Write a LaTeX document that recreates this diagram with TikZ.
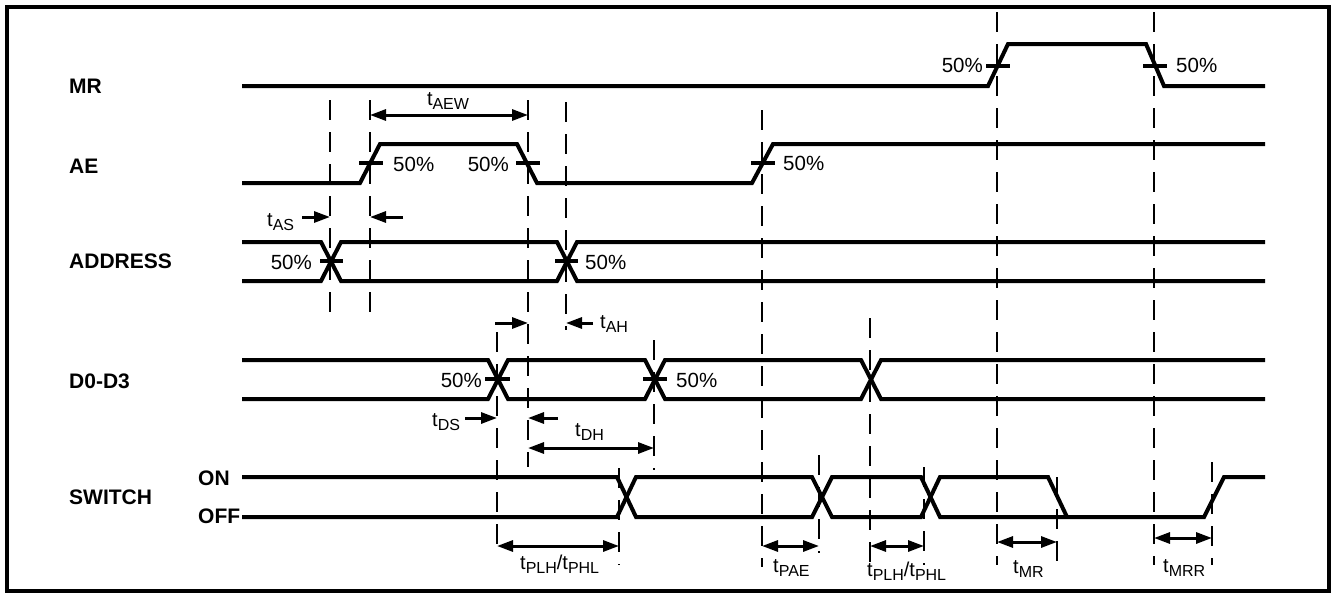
\documentclass[tikz,border=0pt]{standalone}
\usepackage{fontspec}
\setmainfont{Liberation Sans}
\usetikzlibrary{arrows.meta}
\newcommand{\tsub}[1]{t\raisebox{-4pt}{\fontsize{16}{16}\selectfont #1}}
\begin{document}
\begin{tikzpicture}[x=1pt,y=-1pt,
  sig/.style={line width=4pt, line join=miter},
  tickmark/.style={line width=4pt},
  guide/.style={line width=1.4pt, dash pattern=on 20pt off 12pt},
  dim/.style={line width=3pt, -{Triangle[length=16pt,width=11pt]}},
  dimboth/.style={line width=3pt, {Triangle[length=16pt,width=11pt]}-{Triangle[length=16pt,width=11pt]}},
  lbl/.style={font=\bfseries\fontsize{21}{25}\selectfont, inner sep=0pt},
  pct/.style={font=\fontsize{20.5}{24}\selectfont, inner sep=0pt},
  tlbl/.style={font=\fontsize{20}{24}\selectfont, inner sep=0pt}]
\useasboundingbox (0,0) rectangle (1335,597);
% frame
\draw[line width=4pt] (6.5,6.5) rectangle (1328.5,590.5);

% signal names
\node[lbl, anchor=west] (mr) at (69,86) {MR};
\node[lbl, anchor=west] (ae) at (69,166) {AE};
\node[lbl, anchor=west] (addr) at (69,261) {ADDRESS};
\node[lbl, anchor=west] (data) at (69,381) {D0-D3};
\node[lbl, anchor=west] (sw) at (69,497) {SWITCH};
\node[lbl, anchor=west] (on) at (198,478) {ON};
\node[lbl, anchor=west] (off) at (198,516) {OFF};

% guide lines
\draw[guide] (330,100) -- (330,322);
\draw[guide] (370,100) -- (370,322);
\draw[guide] (528,100) -- (528,467);
\draw[guide] (566,102) -- (566,330);
\draw[guide] (762,110) -- (762,567);
\draw[guide] (997,12) -- (997,565);
\draw[guide] (1154,12) -- (1154,565);
\draw[guide] (497,332) -- (497,555);
\draw[guide] (654,340) -- (654,470);
\draw[guide] (870,318) -- (870,565);
\draw[guide] (619,468) -- (619,565);
\draw[guide] (819,455) -- (819,553);
\draw[guide] (924,467) -- (924,565);
\draw[guide] (1057,477) -- (1057,562);
\draw[guide] (1212,462) -- (1212,565);

% MR
\draw[sig] (242,86) -- (988,86) -- (1008,44) -- (1146,44) -- (1164,86) -- (1265,86);
\draw[tickmark] (986,66) -- (1010,66);
\draw[tickmark] (1143,66) -- (1167,66);
\node[pct, anchor=east] (mr50a) at (983,65) {50\%};
\node[pct, anchor=west] (mr50b) at (1176,65) {50\%};

% AE
\draw[sig] (242,183) -- (360,183) -- (380,144) -- (517,144) -- (537,183) -- (752,183) -- (773,144) -- (1265,144);
\draw[tickmark] (359,163) -- (383,163);
\draw[tickmark] (516,163) -- (540,163);
\draw[tickmark] (751,163) -- (775,163);
\node[pct, anchor=west] (ae50a) at (393,164) {50\%};
\node[pct, anchor=east] (ae50b) at (509,164) {50\%};
\node[pct, anchor=west] (ae50c) at (783,163) {50\%};

% ADDRESS
\draw[sig] (242,242) -- (321,242) -- (341,281) -- (557,281) -- (577,242) -- (1265,242);
\draw[sig] (242,281) -- (321,281) -- (341,242) -- (557,242) -- (577,281) -- (1265,281);
\draw[tickmark] (320,261) -- (343,261);
\draw[tickmark] (555,261) -- (578,261);
\node[pct, anchor=east] (ad50a) at (312,262) {50\%};
\node[pct, anchor=west] (ad50b) at (585,262) {50\%};

% D0-D3
\draw[sig] (242,360) -- (488,360) -- (508,399) -- (645,399) -- (665,360) -- (861,360) -- (881,399) -- (1265,399);
\draw[sig] (242,399) -- (488,399) -- (508,360) -- (645,360) -- (665,399) -- (861,399) -- (881,360) -- (1265,360);
\draw[tickmark] (485,379) -- (510,379);
\draw[tickmark] (643,379) -- (667,379);
\node[pct, anchor=east] (d50a) at (482,380) {50\%};
\node[pct, anchor=west] (d50b) at (676,380) {50\%};

% SWITCH
\draw[sig] (242,477) -- (617,477) -- (636,517) -- (812,517) -- (832,477) -- (921,477) -- (940,517) -- (1204,517) -- (1224,477) -- (1265,477);
\draw[sig] (242,517) -- (617,517) -- (636,477) -- (812,477) -- (832,517) -- (921,517) -- (940,477) -- (1048,477) -- (1067,517);

% timing arrows
\coordinate (aewL) at (370,115); \coordinate (aewR) at (528,115);
\draw[dimboth] (aewL) -- (aewR);
\node[tlbl, anchor=base] (taew) at (448,105) {\tsub{AEW}};

\coordinate (asA) at (302,217); \coordinate (asB) at (330,217);
\coordinate (asC) at (403,217); \coordinate (asD) at (370,217);
\draw[dim] (asA) -- (asB);
\draw[dim] (asC) -- (asD);
\node[tlbl, anchor=base west] (tas) at (267,226) {\tsub{AS}};

\coordinate (ahA) at (495,323); \coordinate (ahB) at (528,323);
\coordinate (ahC) at (593,323); \coordinate (ahD) at (566,323);
\draw[dim] (ahA) -- (ahB);
\draw[dim] (ahC) -- (ahD);
\node[tlbl, anchor=base west] (tah) at (600,328) {\tsub{AH}};

\coordinate (dsA) at (465,418); \coordinate (dsB) at (497,418);
\coordinate (dhA) at (558,418); \coordinate (dhB) at (528,418);
\draw[dim] (dsA) -- (dsB);
\draw[dim] (dhA) -- (dhB);
\node[tlbl, anchor=base west] (tds) at (432,426) {\tsub{DS}};

\coordinate (dhL) at (528,448); \coordinate (dhR) at (654,448);
\draw[dimboth] (dhL) -- (dhR);
\node[tlbl, anchor=base west] (tdh) at (575,436) {\tsub{DH}};

\coordinate (p1L) at (497,546); \coordinate (p1R) at (619,546);
\draw[dimboth] (p1L) -- (p1R);
\node[tlbl, anchor=base west] (tp1) at (520,569) {\tsub{PLH}/\tsub{PHL}};

\coordinate (paeL) at (762,546); \coordinate (paeR) at (819,546);
\draw[dimboth] (paeL) -- (paeR);
\node[tlbl, anchor=base west] (tpae) at (773,572) {\tsub{PAE}};

\coordinate (p2L) at (870,546); \coordinate (p2R) at (924,546);
\draw[dimboth] (p2L) -- (p2R);
\node[tlbl, anchor=base west] (tp2) at (867,576) {\tsub{PLH}/\tsub{PHL}};

\coordinate (mrL) at (997,542); \coordinate (mrR) at (1057,542);
\draw[dimboth] (mrL) -- (mrR);
\node[tlbl, anchor=base west] (tmr) at (1013,573) {\tsub{MR}};

\coordinate (mrrL) at (1154,538); \coordinate (mrrR) at (1212,538);
\draw[dimboth] (mrrL) -- (mrrR);
\node[tlbl, anchor=base west] (tmrr) at (1163,572) {\tsub{MRR}};
\end{tikzpicture}
\end{document}
